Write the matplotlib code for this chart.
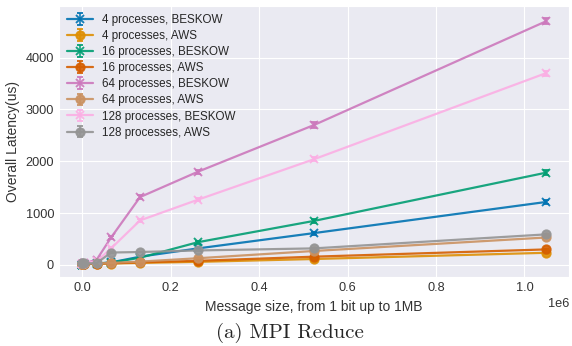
import matplotlib.pyplot as plt
import seaborn as sns

# Message sizes in bytes
sizes = [1, 64, 4096, 32768, 65536, 131072, 262144, 524288, 1048576]

# Mean latency (us) per configuration
beskow_4 = [5, 6, 10, 25, 50, 160, 320, 615, 1215]
aws_4 = [20, 20, 22, 24, 28, 40, 60, 115, 235]
beskow_16 = [8, 9, 14, 30, 45, 140, 440, 850, 1780]
aws_16 = [22, 22, 24, 26, 32, 50, 80, 160, 300]
beskow_64 = [15, 18, 30, 100, 530, 1310, 1800, 2700, 4700]
aws_64 = [25, 25, 28, 30, 40, 65, 130, 270, 530]
beskow_128 = [20, 22, 35, 70, 320, 860, 1260, 2040, 3700]
aws_128 = [30, 30, 32, 35, 240, 250, 280, 320, 590]

# Standard deviation (us)
err_beskow_4 = [2, 2, 3, 5, 8, 15, 20, 30, 40]
err_aws_4 = [3, 3, 3, 4, 5, 6, 8, 10, 15]
err_beskow_16 = [2, 2, 3, 5, 8, 15, 30, 40, 50]
err_aws_16 = [3, 3, 3, 4, 5, 6, 8, 10, 15]
err_beskow_64 = [3, 3, 5, 10, 30, 40, 40, 50, 60]
err_aws_64 = [3, 3, 3, 4, 5, 6, 8, 10, 15]
err_beskow_128 = [3, 3, 5, 10, 20, 30, 30, 40, 50]
err_aws_128 = [3, 3, 3, 4, 5, 6, 8, 10, 15]

labels = ["4 processes, BESKOW", "4 processes, AWS",
          "16 processes, BESKOW", "16 processes, AWS",
          "64 processes, BESKOW", "64 processes, AWS",
          "128 processes, BESKOW", "128 processes, AWS"]
series = [beskow_4, aws_4, beskow_16, aws_16,
          beskow_64, aws_64, beskow_128, aws_128]
errors = [err_beskow_4, err_aws_4, err_beskow_16, err_aws_16,
          err_beskow_64, err_aws_64, err_beskow_128, err_aws_128]

sns.set_style("darkgrid")
plt.rcParams["font.family"] = ["Liberation Sans", "DejaVu Sans"]
colors = sns.color_palette("colorblind", 8)

fig = plt.figure(figsize=(5.72, 3.46), dpi=100)
ax = fig.add_axes([0.103, 0.199, 0.892, 0.784])

for i, (lab, y, e) in enumerate(zip(labels, series, errors)):
    marker = "x" if "BESKOW" in lab else "o"
    ax.errorbar(sizes, y, yerr=e, label=lab, color=colors[i], alpha=0.9,
                marker=marker, markersize=6, markeredgewidth=1.4,
                linewidth=1.6, capsize=2.5, elinewidth=1.2)

ax.set_xlabel("Message size, from 1 bit up to 1MB", fontsize=10, color="#333333")
ax.set_ylabel("Overall Latency(us)", fontsize=10, color="#333333")
ax.tick_params(labelsize=9.2, colors="#333333", length=0)
ax.xaxis.get_offset_text().set_fontsize(9.2)
ax.legend(loc="upper left", fontsize=8.4, frameon=False,
          handlelength=2.2, labelspacing=0.35, borderaxespad=0.3)

fig.text(0.507, 0.038, "(a) MPI Reduce", ha="center", va="center",
         fontname="cmr10", fontsize=15)

fig.savefig("out.png", dpi=100)
